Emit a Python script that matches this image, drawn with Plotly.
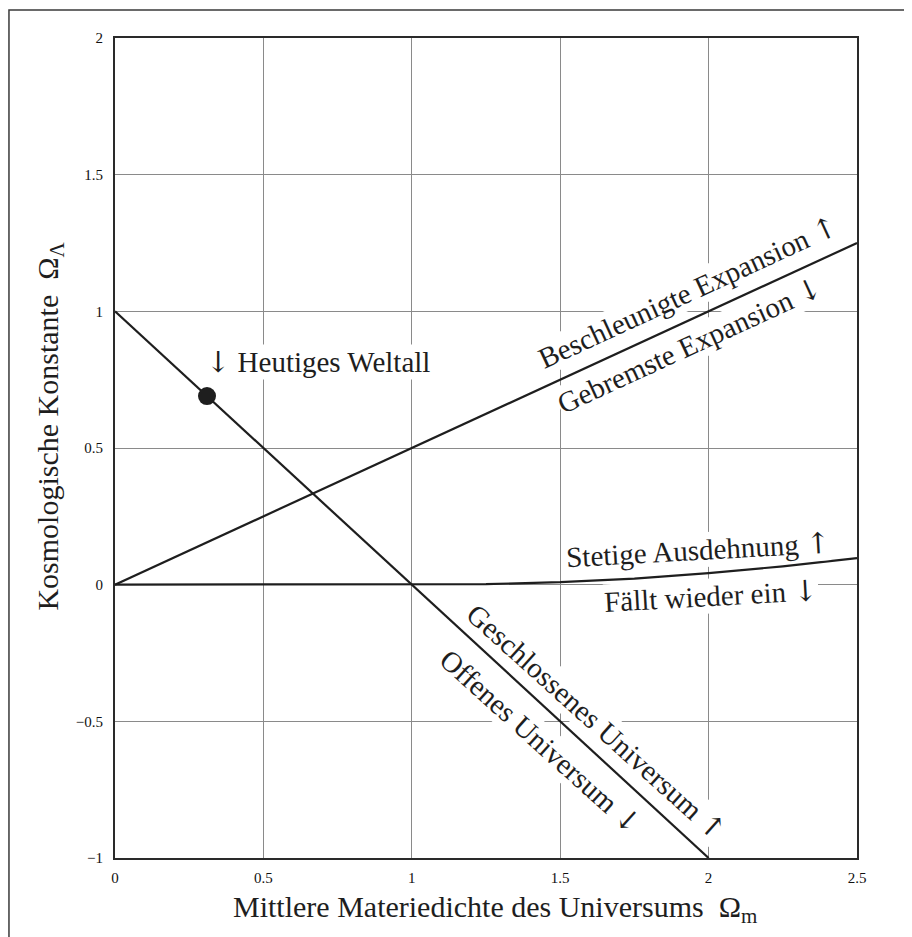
import plotly.graph_objects as go

# --- data ---
closed_x = [0.0, 2.0]            # Omega_Lambda = 1 - Omega_m (flat universe)
closed_y = [1.0, -1.0]
accel_x = [0.0, 2.5]             # Omega_Lambda = Omega_m / 2 (q0 = 0)
accel_y = [0.0, 1.25]
recollapse_x = [0.0, 1.0, 1.25, 1.5, 1.75, 2.0, 2.25, 2.5]
recollapse_y = [0.0, 0.0, 0.002, 0.009, 0.022, 0.042, 0.067, 0.097]
today_x = [0.31]
today_y = [0.69]

x_ticks = [0, 0.5, 1, 1.5, 2, 2.5]
x_tick_labels = ["0", "0.5", "1", "1.5", "2", "2.5"]
y_ticks = [-1, -0.5, 0, 0.5, 1, 1.5, 2]
y_tick_labels = ["\u22121", "\u22120.5", "0", "0.5", "1", "1.5", "2"]

UP = '<span style="font-family:DejaVu Serif">\u2191</span>'
DOWN = '<span style="font-family:DejaVu Serif">\u2193</span>'
labels = [
    DOWN + " Heutiges Weltall",
    "Beschleunigte Expansion " + UP,
    "Gebremste Expansion " + DOWN,
    "Stetige Ausdehnung " + UP,
    "F\u00e4llt wieder ein " + DOWN,
    "Geschlossenes Universum " + UP,
    "Offenes Universum " + DOWN,
]
x_title = "Mittlere Materiedichte des Universums  \u03a9<sub>m</sub>"
y_title = "Kosmologische Konstante  \u03a9<sub>\u039b</sub>"

# --- styling / placement ---
FONT = "Liberation Serif, Times New Roman, serif"
INK = "#1e1e1e"
label_pos = [
    dict(x=0.684, y=0.814, angle=0),
    dict(x=1.93, y=1.072, angle=-24.7),
    dict(x=1.937, y=0.877, angle=-24.7),
    dict(x=1.964, y=0.127, angle=-3.2),
    dict(x=2.008, y=-0.042, angle=-3.2),
    dict(x=1.621, y=-0.503, angle=42.0),
    dict(x=1.435, y=-0.576, angle=42.0),
]

fig = go.Figure()
line_style = dict(color=INK, width=2.2)
fig.add_trace(go.Scatter(x=closed_x, y=closed_y, mode="lines", line=line_style,
                         showlegend=False, hoverinfo="skip"))
fig.add_trace(go.Scatter(x=accel_x, y=accel_y, mode="lines", line=line_style,
                         showlegend=False, hoverinfo="skip"))
fig.add_trace(go.Scatter(x=recollapse_x, y=recollapse_y, mode="lines", line=line_style,
                         showlegend=False, hoverinfo="skip"))
fig.add_trace(go.Scatter(x=today_x, y=today_y, mode="markers",
                         marker=dict(color=INK, size=18, line=dict(width=0)),
                         showlegend=False, hoverinfo="skip"))

for text, p in zip(labels, label_pos):
    fig.add_annotation(x=p["x"], y=p["y"], xref="x", yref="y", text=text,
                       showarrow=False, textangle=p["angle"],
                       xanchor="center", yanchor="middle",
                       font=dict(family=FONT, size=29, color=INK),
                       bgcolor="white", borderpad=0)

# axis titles
fig.add_annotation(x=0.512, y=-0.062, xref="paper", yref="paper", text=x_title,
                   showarrow=False, xanchor="center", yanchor="middle",
                   font=dict(family=FONT, size=30, color=INK))
fig.add_annotation(x=-0.088, y=0.527, xref="paper", yref="paper", text=y_title,
                   showarrow=False, textangle=-90, xanchor="center", yanchor="middle",
                   font=dict(family=FONT, size=30, color=INK))

# outer frame (the bottom edge lies below the visible page)
fig.add_shape(type="rect", xref="paper", yref="paper",
              x0=-0.1429, x1=1.0674, y0=-0.14, y1=1.0341,
              line=dict(color="#3a3a3a", width=1.5), fillcolor="rgba(0,0,0,0)",
              layer="below")

axis_common = dict(
    showgrid=True, gridcolor="#8a8a8a", gridwidth=1,
    zeroline=False, showline=True, linecolor="#2a2a2a", linewidth=2, mirror=True,
    ticks="", tickfont=dict(family=FONT, size=15, color="#111111"),
)
fig.update_xaxes(range=[0, 2.5], tickvals=x_ticks, ticktext=x_tick_labels,
                 ticklabelstandoff=5, **axis_common)
fig.update_yaxes(range=[-1, 2], tickvals=y_ticks, ticktext=y_tick_labels,
                 ticklabelstandoff=7, **axis_common)

# the page adds an 8px body margin, so the figure is 8px smaller and shifted
fig.update_layout(
    width=904, height=929,
    margin=dict(l=107, r=55, t=30, b=79, autoexpand=False),
    paper_bgcolor="white", plot_bgcolor="white",
    font=dict(family=FONT, color=INK),
    showlegend=False,
)

fig.write_html("out.html")
